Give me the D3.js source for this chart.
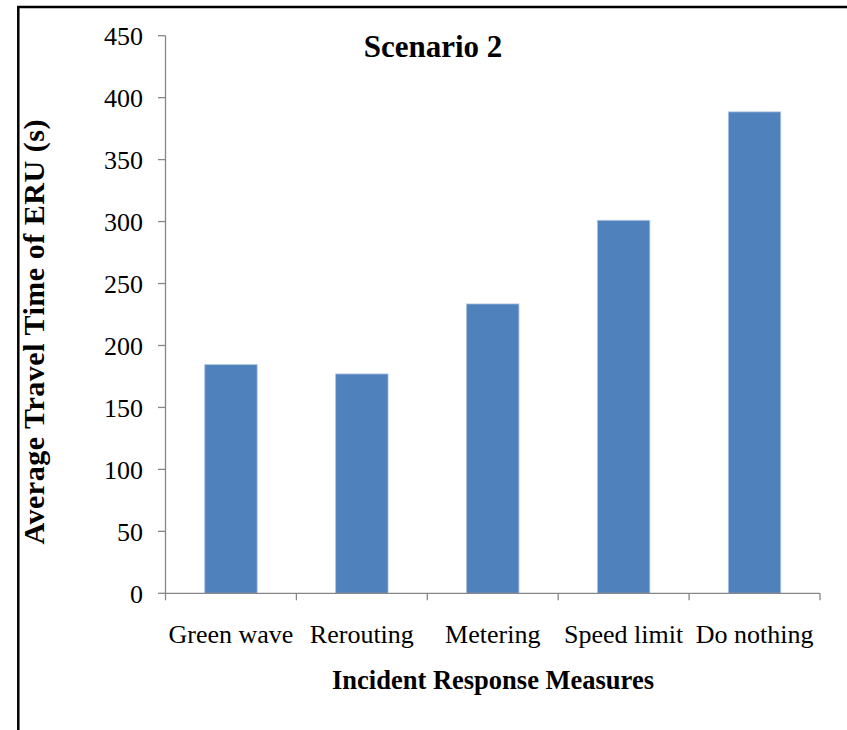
<!DOCTYPE html>
<html>
<head>
<meta charset="utf-8">
<script src="https://cdn.jsdelivr.net/npm/d3@7"></script>
<style>
  html, body { margin: 0; padding: 0; background: #fff; }
  svg { display: block; }
  text { font-family: "Liberation Serif", "Times New Roman", serif; fill: #000; }
</style>
</head>
<body>
<svg id="chart" width="847" height="730"></svg>
<script>
const categories = ["Green wave", "Rerouting", "Metering", "Speed limit", "Do nothing"];
const values = [184.5, 177, 233.5, 301, 388.5];
const yTicks = [0, 50, 100, 150, 200, 250, 300, 350, 400, 450];
const chartTitle = "Scenario 2";
const xTitle = "Incident Response Measures";
const yTitle = "Average Travel Time of ERU (s)";

const svg = d3.select("#chart");
const axisColor = "#868686";

// outer frame (only top and left edges visible)
svg.append("rect")
  .attr("x", 18.3).attr("y", 7)
  .attr("width", 1000).attr("height", 1000)
  .attr("fill", "none").attr("stroke", "#000").attr("stroke-width", 2.5);

const x = d3.scaleBand()
  .domain(categories)
  .range([165.5, 820])
  .paddingInner(0.6)
  .paddingOuter(0.3);

const y = d3.scaleLinear()
  .domain([0, 450])
  .range([593.3, 35.7]);

// bars
svg.append("g").selectAll("rect")
  .data(categories)
  .join("rect")
  .attr("x", d => x(d))
  .attr("y", (d, i) => y(values[i]))
  .attr("width", x.bandwidth())
  .attr("height", (d, i) => y(0) - y(values[i]))
  .attr("fill", "#4F81BD")
  .attr("stroke", "#a9c0de")
  .attr("stroke-width", 0.8);

// y axis
const yAxis = svg.append("g");
yAxis.append("line")
  .attr("x1", 165.5).attr("x2", 165.5)
  .attr("y1", y(450)).attr("y2", y(0))
  .attr("stroke", axisColor).attr("stroke-width", 1.3);
yAxis.selectAll("line.tick")
  .data(yTicks)
  .join("line")
  .attr("class", "tick")
  .attr("x1", 158).attr("x2", 165.5)
  .attr("y1", d => y(d)).attr("y2", d => y(d))
  .attr("stroke", axisColor).attr("stroke-width", 1.3);
yAxis.selectAll("text")
  .data(yTicks)
  .join("text")
  .attr("x", 143)
  .attr("y", d => y(d))
  .attr("dy", "0.36em")
  .attr("text-anchor", "end")
  .attr("font-size", 26)
  .text(d => d);

// x axis
const xAxis = svg.append("g");
xAxis.append("line")
  .attr("x1", x.range()[0]).attr("x2", x.range()[1])
  .attr("y1", y(0)).attr("y2", y(0))
  .attr("stroke", axisColor).attr("stroke-width", 1.3);
const bounds = d3.range(categories.length + 1).map(i => x.range()[0] + i * x.step());
xAxis.selectAll("line.tick")
  .data(bounds)
  .join("line")
  .attr("class", "tick")
  .attr("x1", d => d).attr("x2", d => d)
  .attr("y1", y(0)).attr("y2", y(0) + 7)
  .attr("stroke", axisColor).attr("stroke-width", 1.3);
xAxis.selectAll("text")
  .data(categories)
  .join("text")
  .attr("x", d => x(d) + x.bandwidth() / 2)
  .attr("y", 643)
  .attr("text-anchor", "middle")
  .attr("font-size", 26)
  .text(d => d);

// titles
svg.append("text")
  .attr("x", 433).attr("y", 57)
  .attr("text-anchor", "middle")
  .attr("font-size", 31)
  .attr("font-weight", "bold")
  .text(chartTitle);

svg.append("text")
  .attr("x", 493).attr("y", 689)
  .attr("text-anchor", "middle")
  .attr("font-size", 26.5)
  .attr("font-weight", "bold")
  .text(xTitle);

svg.append("text")
  .attr("transform", "translate(44,332) rotate(-90)")
  .attr("text-anchor", "middle")
  .attr("font-size", 30)
  .attr("font-weight", "bold")
  .attr("textLength", 425)
  .attr("lengthAdjust", "spacing")
  .text(yTitle);
</script>
</body>
</html>
